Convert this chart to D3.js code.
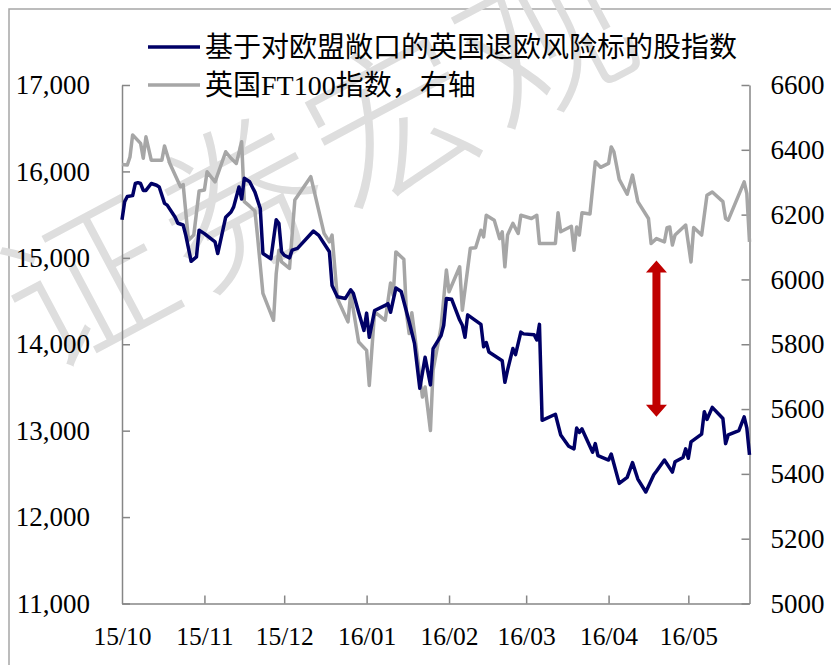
<!DOCTYPE html>
<html>
<head>
<meta charset="utf-8">
<script src="https://cdn.jsdelivr.net/npm/d3@7"></script>
<style>
  html, body { margin: 0; padding: 0; background: #ffffff; }
  svg { display: block; }
</style>
</head>
<body>
<svg id="chart" width="831" height="665"></svg>
<script>
// ---------------- DATA ----------------
const seriesNames = ["基于对欧盟敞口的英国退欧风险标的股指数", "英国FT100指数，右轴"];

const blueDates = ["2015-10-01","2015-10-02","2015-10-03","2015-10-05","2015-10-06","2015-10-07","2015-10-08","2015-10-09","2015-10-10","2015-10-12","2015-10-14","2015-10-15","2015-10-17","2015-10-18","2015-10-21","2015-10-22","2015-10-24","2015-10-25","2015-10-27","2015-10-29","2015-10-30","2015-11-01","2015-11-05","2015-11-06","2015-11-09","2015-11-11","2015-11-12","2015-11-14","2015-11-15","2015-11-16","2015-11-18","2015-11-20","2015-11-22","2015-11-23","2015-11-26","2015-11-28","2015-11-29","2015-11-30","2015-12-01","2015-12-03","2015-12-04","2015-12-06","2015-12-12","2015-12-14","2015-12-18","2015-12-19","2015-12-21","2015-12-24","2015-12-26","2015-12-27","2015-12-29","2015-12-31","2016-01-01","2016-01-02","2016-01-04","2016-01-08","2016-01-09","2016-01-10","2016-01-12","2016-01-14","2016-01-17","2016-01-19","2016-01-21","2016-01-23","2016-01-25","2016-01-26","2016-01-29","2016-01-30","2016-01-31","2016-02-02","2016-02-05","2016-02-06","2016-02-07","2016-02-08","2016-02-13","2016-02-14","2016-02-15","2016-02-16","2016-02-20","2016-02-21","2016-02-22","2016-02-23","2016-02-25","2016-02-26","2016-02-28","2016-02-29","2016-03-04","2016-03-05","2016-03-06","2016-03-07","2016-03-12","2016-03-14","2016-03-17","2016-03-19","2016-03-20","2016-03-21","2016-03-22","2016-03-26","2016-03-27","2016-03-28","2016-04-01","2016-04-02","2016-04-05","2016-04-08","2016-04-10","2016-04-12","2016-04-15","2016-04-18","2016-04-19","2016-04-22","2016-04-25","2016-04-26","2016-04-29","2016-04-30","2016-05-01","2016-05-02","2016-05-06","2016-05-07","2016-05-08","2016-05-10","2016-05-14","2016-05-15","2016-05-16","2016-05-20","2016-05-22","2016-05-23","2016-05-24"];
const blueValues = [15440,15650,15710,15720,15860,15870,15860,15780,15780,15860,15840,15820,15630,15610,15470,15400,15380,15260,14960,15010,15320,15280,15185,15050,15470,15530,15590,15820,15680,15920,15880,15760,15570,15050,14990,15440,15400,15070,15030,15000,15090,15110,15310,15260,15070,14680,14550,14530,14630,14590,14370,14160,14360,14080,14390,14450,14470,14370,14650,14610,14260,14010,13490,13850,13530,13950,14100,14220,14530,14520,14280,14220,14080,14340,14230,13970,14020,13910,13830,13810,13560,13700,13950,13880,14140,14120,14110,14050,14230,13120,13190,12950,12820,12790,13030,12980,13020,12750,12850,12710,12660,12730,12390,12460,12630,12440,12290,12490,12530,12660,12520,12640,12690,12790,12680,12870,12960,13220,13130,13270,13140,12850,12950,13000,13160,13030,12720];

const ftseDates = ["2015-10-01","2015-10-03","2015-10-04","2015-10-05","2015-10-08","2015-10-09","2015-10-10","2015-10-12","2015-10-16","2015-10-17","2015-10-19","2015-10-23","2015-10-24","2015-10-26","2015-10-28","2015-10-30","2015-11-01","2015-11-02","2015-11-05","2015-11-09","2015-11-11","2015-11-13","2015-11-15","2015-11-16","2015-11-18","2015-11-20","2015-11-21","2015-11-23","2015-11-27","2015-11-28","2015-11-29","2015-11-30","2015-12-03","2015-12-05","2015-12-11","2015-12-16","2015-12-18","2015-12-19","2015-12-21","2015-12-25","2015-12-26","2015-12-29","2016-01-01","2016-01-02","2016-01-04","2016-01-08","2016-01-10","2016-01-11","2016-01-12","2016-01-15","2016-01-16","2016-01-17","2016-01-18","2016-01-19","2016-01-22","2016-01-23","2016-01-25","2016-01-26","2016-01-29","2016-01-31","2016-02-01","2016-02-05","2016-02-06","2016-02-09","2016-02-11","2016-02-13","2016-02-14","2016-02-15","2016-02-18","2016-02-20","2016-02-21","2016-02-22","2016-02-23","2016-02-25","2016-02-27","2016-02-28","2016-03-03","2016-03-05","2016-03-06","2016-03-12","2016-03-13","2016-03-14","2016-03-18","2016-03-19","2016-03-20","2016-03-21","2016-03-22","2016-03-25","2016-03-27","2016-03-29","2016-04-01","2016-04-02","2016-04-03","2016-04-05","2016-04-08","2016-04-10","2016-04-12","2016-04-16","2016-04-17","2016-04-19","2016-04-22","2016-04-23","2016-04-24","2016-04-25","2016-04-26","2016-04-30","2016-05-02","2016-05-03","2016-05-06","2016-05-08","2016-05-10","2016-05-14","2016-05-15","2016-05-16","2016-05-22","2016-05-23","2016-05-24"];
const ftseValues = [6355,6353,6378,6446,6420,6374,6440,6368,6368,6412,6358,6286,6293,6121,6137,6273,6276,6332,6301,6394,6374,6358,6425,6240,6226,6211,6131,5957,5874,6018,6090,6054,6034,6245,6317,6142,6116,6137,5941,5869,5957,5807,5781,5673,5900,5874,5989,5951,6085,6062,5895,5833,5897,5834,5637,5668,5534,5720,5853,6029,5962,6039,5905,6096,6098,6152,6131,6198,6183,6126,6147,6039,6137,6173,6142,6198,6188,6198,6111,6111,6206,6147,6164,6090,6162,6137,6206,6202,6363,6346,6358,6409,6394,6309,6263,6322,6240,6188,6111,6126,6116,6160,6162,6106,6137,6168,6054,6160,6137,6260,6270,6240,6188,6183,6301,6265,6116];

const leftTicks = [11000, 12000, 13000, 14000, 15000, 16000, 17000];
const rightTicks = [5000, 5200, 5400, 5600, 5800, 6000, 6200, 6400, 6600];
const xTickDates = ["2015-10-01","2015-11-01","2015-12-01","2016-01-01","2016-02-01","2016-03-01","2016-04-01","2016-05-01"];
const xTickLabels = ["15/10","15/11","15/12","16/01","16/02","16/03","16/04","16/05"];
const xDomain = ["2015-10-01", "2016-05-24"];
// annotation arrow (date, left-axis range)
const arrowDate = "2016-04-19";
const arrowRange = [14970, 13160];
const watermark = "证券宏观";

// ---------------- CHART ----------------
const parse = d3.utcParse("%Y-%m-%d");
const svg = d3.select("#chart");
const W = 831, H = 665;
const m = { left: 122, right: 749.5, top: 85, bottom: 603.5 };

const x = d3.scaleUtc().domain(xDomain.map(parse)).range([m.left, m.right]);
const yL = d3.scaleLinear().domain([11000, 17000]).range([m.bottom, m.top]);
const yR = d3.scaleLinear().domain([5000, 6600]).range([m.bottom, m.top]);

const serif = "'Liberation Serif', 'Times New Roman', 'Noto Sans CJK SC', serif";
const axisColor = "#868686";

svg.append("rect").attr("width", W).attr("height", H).attr("fill", "#fff");
// outer frame
svg.append("rect").attr("x", 9).attr("y", 9).attr("width", 900).attr("height", 800)
  .attr("fill", "none").attr("stroke", "#a6a6a6").attr("stroke-width", 1.5);

// watermark
svg.append("text")
  .attr("transform", "translate(315,150) rotate(-28)")
  .attr("text-anchor", "middle").attr("dominant-baseline", "central")
  .attr("font-family", "'Noto Sans CJK SC', sans-serif")
  .attr("font-weight", 300)
  .attr("font-size", 165).attr("letter-spacing", 8)
  .attr("fill", "#dedede")
  .text(watermark);

// axes
function styleAxis(g, fontSize) {
  g.select(".domain").attr("stroke", axisColor).attr("stroke-width", 1.5);
  g.selectAll(".tick line").attr("stroke", axisColor).attr("stroke-width", 1.5);
  g.selectAll(".tick text").attr("fill", "#000").attr("font-family", serif).attr("font-size", fontSize);
}

const gL = svg.append("g").attr("transform", `translate(${m.left},0)`)
  .call(d3.axisLeft(yL).tickValues(leftTicks).tickFormat(d3.format(","))
    .tickSizeInner(-8).tickSizeOuter(0).tickPadding(32));
styleAxis(gL, 27);

const gR = svg.append("g").attr("transform", `translate(${m.right},0)`)
  .call(d3.axisRight(yR).tickValues(rightTicks).tickFormat(d3.format("d"))
    .tickSizeInner(-8).tickSizeOuter(0).tickPadding(21));
styleAxis(gR, 27);

const gB = svg.append("g").attr("transform", `translate(0,${m.bottom})`)
  .call(d3.axisBottom(x).tickValues(xTickDates.map(parse))
    .tickFormat((d, i) => xTickLabels[i])
    .tickSizeInner(-8).tickSizeOuter(0).tickPadding(23));
styleAxis(gB, 25.5);
gB.selectAll(".tick").filter((d, i) => i === 0).select("line").remove();

// lines
const ftseData = ftseDates.map((d, i) => ({ d: parse(d), v: ftseValues[i] }));
const blueData = blueDates.map((d, i) => ({ d: parse(d), v: blueValues[i] }));

svg.append("path").datum(ftseData)
  .attr("fill", "none").attr("stroke", "#a6a6a6").attr("stroke-width", 3.5)
  .attr("stroke-linejoin", "round")
  .attr("d", d3.line().x(p => x(p.d)).y(p => yR(p.v)));

svg.append("path").datum(blueData)
  .attr("fill", "none").attr("stroke", "#000066").attr("stroke-width", 3.5)
  .attr("stroke-linejoin", "round")
  .attr("d", d3.line().x(p => x(p.d)).y(p => yL(p.v)));

// arrow annotation
const ax = x(parse(arrowDate));
const at = yL(arrowRange[0]), ab = yL(arrowRange[1]);
const sw = 4, hw = 10.5, hl = 12;
const arrowPts = [
  [ax, at], [ax + hw, at + hl], [ax + sw, at + hl], [ax + sw, ab - hl], [ax + hw, ab - hl],
  [ax, ab], [ax - hw, ab - hl], [ax - sw, ab - hl], [ax - sw, at + hl], [ax - hw, at + hl]
];
svg.append("path").attr("d", d3.line()(arrowPts) + "Z").attr("fill", "#c00000");

// legend
const legendColors = ["#000066", "#a6a6a6"];
const legendY = [47, 85];
seriesNames.forEach((name, i) => {
  svg.append("line").attr("x1", 148).attr("x2", 200).attr("y1", legendY[i]).attr("y2", legendY[i])
    .attr("stroke", legendColors[i]).attr("stroke-width", 3.5);
  svg.append("text").attr("x", 205).attr("y", legendY[i])
    .attr("dominant-baseline", "central")
    .attr("font-family", serif).attr("font-size", 28).attr("fill", "#000")
    .text(name);
});
</script>
</body>
</html>
